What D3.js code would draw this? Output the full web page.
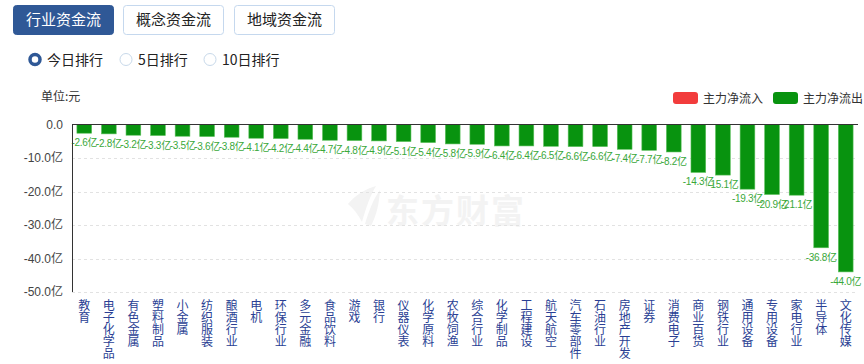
<html>
<head>
<meta charset="utf-8">
<script src="https://d3js.org/d3.v7.min.js"></script>
<style>
  body { margin: 0; background: #fff; font-family: "Noto Sans CJK SC", "Noto Sans", sans-serif; }
  svg { display: block; }
</style>
</head>
<body>
<div id="chart"></div>
<script>
var tabs = ["行业资金流", "概念资金流", "地域资金流"];
var ranks = ["今日排行", "5日排行", "10日排行"];
var legendNames = ["主力净流入", "主力净流出"];
var industries = ["教育", "电子化学品", "有色金属", "塑料制品", "小金属", "纺织服装", "酿酒行业", "电机",
  "环保行业", "多元金融", "食品饮料", "游戏", "银行", "仪器仪表", "化学原料", "农牧饲渔",
  "综合行业", "化学制品", "工程建设", "航天航空", "汽车零部件", "石油行业", "房地产开发", "证券",
  "消费电子", "商业百货", "钢铁行业", "通用设备", "专用设备", "家电行业", "半导体", "文化传媒"];
var netFlow = [-2.6, -2.8, -3.2, -3.3, -3.5, -3.6, -3.8, -4.1,
  -4.2, -4.4, -4.7, -4.8, -4.9, -5.1, -5.4, -5.8,
  -5.9, -6.4, -6.4, -6.5, -6.6, -6.6, -7.4, -7.7,
  -8.2, -14.3, -15.1, -19.3, -20.9, -21.1, -36.8, -44.0];
var yTicks = [0, -10, -20, -30, -40, -50];

var svg = d3.select("#chart").append("svg")
  .attr("width", 864)
  .attr("height", 364);

// tabs
var tabX = [13, 123, 234];
svg.selectAll(".tab")
  .data(tabs)
  .enter().append("rect")
  .attr("x", function(d, i) { return tabX[i] + 0.5; })
  .attr("y", 5.5)
  .attr("width", 100)
  .attr("height", 29)
  .attr("rx", 3)
  .style("fill", function(d, i) { return i == 0 ? "#2f5896" : "#fff"; })
  .style("stroke", function(d, i) { return i == 0 ? "#2f5896" : "#c5d8ee"; });

svg.selectAll(".tabText")
  .data(tabs)
  .enter().append("text")
  .attr("x", function(d, i) { return tabX[i] + 50.5; })
  .attr("y", 25)
  .attr("text-anchor", "middle")
  .style("font-size", "15px")
  .style("fill", function(d, i) { return i == 0 ? "#fff" : "#222"; })
  .text(function(d) { return d; });

// radio buttons
var radioX = [35, 126, 210];
svg.selectAll(".radio")
  .data(ranks)
  .enter().append("circle")
  .attr("cx", function(d, i) { return radioX[i]; })
  .attr("cy", 59.5)
  .attr("r", function(d, i) { return i == 0 ? 5 : 6; })
  .style("fill", "#fff")
  .style("stroke", function(d, i) { return i == 0 ? "#2f5896" : "#c8d9ea"; })
  .style("stroke-width", function(d, i) { return i == 0 ? 3.5 : 1; });

svg.selectAll(".radioText")
  .data(ranks)
  .enter().append("text")
  .attr("x", function(d, i) { return radioX[i] + 12; })
  .attr("y", 65)
  .style("font-size", "14px")
  .style("fill", "#222")
  .text(function(d) { return d; });

// unit
svg.append("text")
  .attr("x", 41)
  .attr("y", 101)
  .style("font-size", "12px")
  .style("fill", "#333")
  .text("单位:元");

// legend
var legendColors = ["#f23c3c", "#08930f"];
var legendX = [673, 773];
legendNames.forEach(function(name, i) {
  svg.append("rect")
    .attr("x", legendX[i])
    .attr("y", 92)
    .attr("width", 25)
    .attr("height", 12)
    .attr("rx", 3)
    .style("fill", legendColors[i]);
  svg.append("text")
    .attr("x", legendX[i] + 30)
    .attr("y", 102.5)
    .style("font-size", "12px")
    .style("fill", "#333")
    .text(name);
});

// scales
var x = d3.scaleBand()
  .domain(industries)
  .range([72, 858])
  .paddingInner(0.4)
  .paddingOuter(0.2);
var y = d3.scaleLinear()
  .domain([0, -50])
  .range([124.5, 292]);

// watermark
var wm = svg.append("g").style("fill", "#f3f3f3");
wm.append("path")
  .attr("d", "M348,204 C356,194 368,188 376,186 C370,196 366,208 362,222 C358,214 353,208 348,204 Z M365,224 C369,210 374,198 380,190 C379,204 377,214 371,226 Z");
wm.append("text")
  .attr("x", 386)
  .attr("y", 223)
  .style("font-size", "33px")
  .style("font-weight", "bold")
  .style("letter-spacing", "2px")
  .text("东方财富");

// grid lines
svg.selectAll(".grid")
  .data(yTicks.filter(function(d) { return d != 0; }))
  .enter().append("line")
  .attr("x1", 72)
  .attr("x2", 858)
  .attr("y1", function(d) { return Math.round(y(d)) + 0.5; })
  .attr("y2", function(d) { return Math.round(y(d)) + 0.5; })
  .style("stroke", "#e2e2e2")
  .style("stroke-dasharray", "3,3");

// y tick labels
svg.selectAll(".ytick")
  .data(yTicks)
  .enter().append("text")
  .attr("x", 63)
  .attr("y", function(d) { return y(d) + 4; })
  .attr("text-anchor", "end")
  .style("font-family", "'Liberation Sans', 'Noto Sans CJK SC', sans-serif")
  .style("font-size", "12px")
  .style("fill", "#444")
  .text(function(d) { return d == 0 ? "0.0" : d.toFixed(1) + "亿"; });

// bars
svg.selectAll(".bar")
  .data(netFlow)
  .enter().append("rect")
  .attr("x", function(d, i) { return x(industries[i]); })
  .attr("y", y(0))
  .attr("width", x.bandwidth())
  .attr("height", function(d) { return y(d) - y(0); })
  .style("fill", function(d) { return d < 0 ? "#08930f" : "#f23c3c"; })
  .style("stroke", "#5cc05c")
  .style("stroke-width", 0.6);

// value labels
svg.selectAll(".val")
  .data(netFlow)
  .enter().append("text")
  .attr("x", function(d, i) { return x(industries[i]) + x.bandwidth() / 2; })
  .attr("y", function(d) { return y(d) + 13; })
  .attr("text-anchor", "middle")
  .style("font-family", "'Liberation Sans', 'Noto Sans CJK SC', sans-serif")
  .style("font-size", "10px")
  .style("letter-spacing", "-0.3px")
  .style("fill", "#3aa83a")
  .text(function(d) { return d.toFixed(1) + "亿"; });

// axes lines
svg.append("line")
  .attr("x1", 72).attr("x2", 858)
  .attr("y1", 124.5).attr("y2", 124.5)
  .style("stroke", "#333");
svg.append("line")
  .attr("x1", 72.5).attr("x2", 72.5)
  .attr("y1", 124).attr("y2", 292)
  .style("stroke", "#333");

// category labels, one character per line
var cat = svg.selectAll(".cat")
  .data(industries)
  .enter().append("text")
  .attr("text-anchor", "middle")
  .style("font-size", "12px")
  .style("fill", "#2a3f94");
cat.each(function(d) {
  var t = d3.select(this);
  var cx = x(d) + x.bandwidth() / 2;
  d.split("").forEach(function(ch, j) {
    t.append("tspan")
      .attr("x", cx)
      .attr("y", 310 + j * 12)
      .text(ch);
  });
});
</script>
</body>
</html>
